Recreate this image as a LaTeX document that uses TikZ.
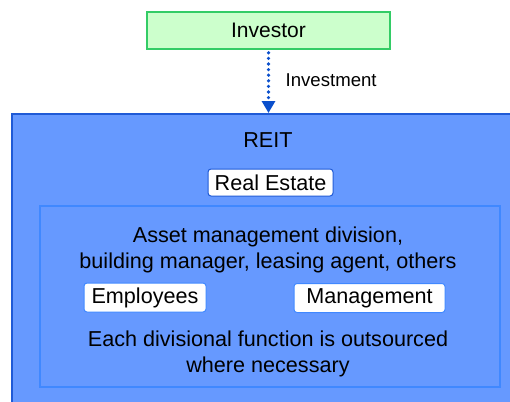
\documentclass[tikz,border=0pt]{standalone}
\usepackage{fontspec}
\setmainfont{Liberation Sans}
\usetikzlibrary{positioning, arrows.meta, calc}
\definecolor{reitblue}{HTML}{6699FF}
\definecolor{reitedge}{HTML}{1F5AD6}
\definecolor{inneredge}{HTML}{4088FF}
\definecolor{invfill}{HTML}{CCFFCC}
\definecolor{invedge}{HTML}{33CC66}
\definecolor{arrblue}{HTML}{0A4FCC}

\begin{document}
\begin{tikzpicture}[
    x=1pt, y=-1pt,
    font=\fontsize{21.6}{26}\selectfont,
    investorbox/.style={
      rectangle, draw=invedge, line width=1.6pt,
      fill=invfill, minimum width=243pt, minimum height=37pt
    },
    reitbox/.style={
      rectangle, draw=reitedge, line width=1.5pt, fill=reitblue
    },
    innerbox/.style={
      rectangle, draw=inneredge, line width=1.8pt, fill=reitblue
    },
    tagbox/.style={
      rectangle, rounded corners=3pt, fill=white,
      draw=inneredge, line width=1pt, inner sep=0pt,
      minimum height=29pt
    },
    arrDotted/.style={-{Triangle[length=12pt, width=13pt]},
      dash pattern=on 0pt off 5.6pt,
      line width=3.6pt, line cap=round, color=arrblue}
  ]
  \useasboundingbox (0,0) rectangle (510,401);
  % Investor
  \node[investorbox, font=\fontsize{21}{26}\selectfont] (investor) at (268.5,30.5) {Investor};
  % REIT
  \node[reitbox, minimum width=510pt, minimum height=300pt, anchor=north west] (reit) at (11,113) {};
  \node (reittitle) at (268,140) {REIT};
  \node[tagbox, draw=reitedge, minimum width=125pt, minimum height=27pt] (estate) at (270.5,182.5) {Real Estate};
  % Divisions
  \node[innerbox, minimum width=460pt, minimum height=181pt, anchor=north west] (inner) at (39,205) {};
  \node[align=center] (asset) at (268,250) {Asset management division,\\building manager, leasing agent, others};
  \node[tagbox, minimum width=122pt] (employees) at (145,297.5) {Employees};
  \node[tagbox, minimum width=151pt] (management) at (369.5,298) {Management};
  \node[align=center] (outsourced) at (268,353.5) {Each divisional function is outsourced\\where necessary};
  % Investment flow
  \draw[arrDotted] ([yshift=-3pt]investor.south) -- (investor.south |- reit.north) node[pos=0.45, right=12pt, text=black, font=\fontsize{18.6}{22}\selectfont] {Investment};
\end{tikzpicture}
\end{document}
